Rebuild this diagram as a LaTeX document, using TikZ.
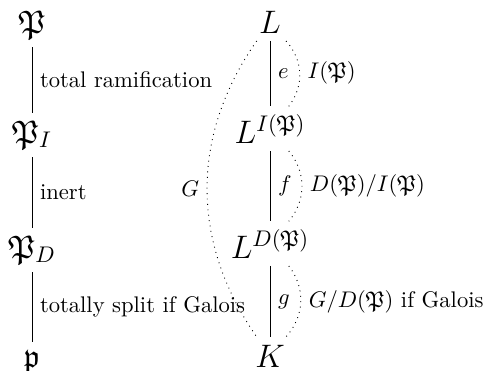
\documentclass[tikz,border=0pt]{standalone}
\usepackage{amssymb}
\usepackage{tikz}
\usetikzlibrary{positioning, calc}

\begin{document}
\begin{tikzpicture}[
  every node/.style={font=\normalsize},
  obj/.style={font=\Large, anchor=base},
  ext/.style={draw=black, line width=0.4pt},
  grp/.style={draw=black, dotted, line width=0.4pt},
  lbl/.style={right, font=\normalsize},
  lblsw/.style={left, font=\normalsize},
]
  \useasboundingbox (0,0) rectangle (75.42mm, -57.54mm);

  % primes, left column
  \node[obj] at (4.98mm,  -5.13mm) (P)  {$\mathfrak{P}$};
  \node[obj] at (4.98mm, -22.24mm) (PI) {$\mathfrak{P}_I$};
  \node[obj] at (4.98mm, -40.12mm) (PD) {$\mathfrak{P}_D$};
  \node[obj] at (4.98mm, -57.07mm) (p)  {$\mathfrak{p}$};

  % fields, right column
  \node[obj] at (41.99mm,  -5.13mm) (L)  {$L$};
  \node[obj] at (41.99mm, -22.24mm) (LI) {$L^{I(\mathfrak{P})}$};
  \node[obj] at (41.99mm, -40.12mm) (LD) {$L^{D(\mathfrak{P})}$};
  \node[obj] at (41.99mm, -57.07mm) (K)  {$K$};

  \draw[ext] (P)  -- node[lbl] {total ramification} (PI);
  \draw[ext] (PI) -- node[lbl] {inert} (PD);
  \draw[ext] (PD) -- node[lbl] {totally split if Galois} (p);

  \draw[ext] (L)  -- node[lbl] {$e$} (LI);
  \draw[ext] (LI) -- node[lbl] {$f$} (LD);
  \draw[ext] (LD) -- node[lbl] {$g$} (K);

  % groups
  \draw[grp] (L)  to[bend left=40] node[lbl] {$I(\mathfrak{P})$} (LI);
  \draw[grp] (LI) to[bend left=40] node[lbl] {$D(\mathfrak{P})/I(\mathfrak{P})$} (LD);
  \draw[grp] (LD) to[bend left=40] node[lbl] {$G/D(\mathfrak{P})$ if Galois} (K);
  \draw[grp] (L)  to[bend right=35] node[lblsw] {$G$} (K);
\end{tikzpicture}
\end{document}
